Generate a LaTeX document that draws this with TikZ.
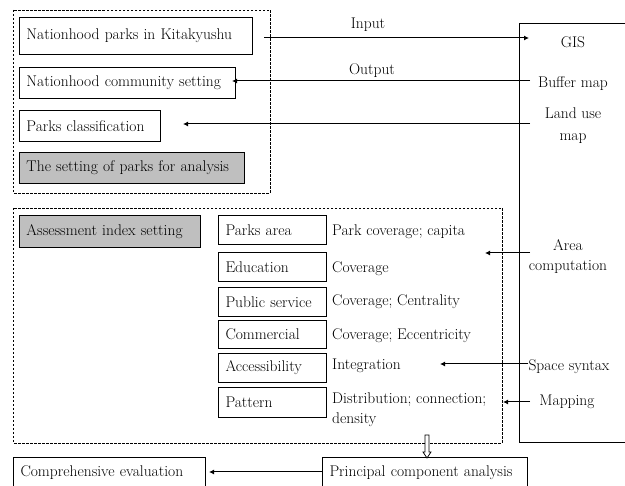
\documentclass[tikz,border=0pt]{standalone}
\usetikzlibrary{arrows.meta}
\tikzset{
  pbox/.style={draw, line width=1pt, inner xsep=7pt, inner ysep=0pt, align=left, anchor=north west},
  graybox/.style={pbox, fill=black!25},
  frame/.style={draw, line width=0.8pt, dash pattern=on 2.5pt off 1.5pt},
  lbl/.style={inner sep=0pt, align=center},
  desc/.style={inner sep=0pt, anchor=west, align=left},
  arr/.style={line width=1pt, -{Latex[length=5pt,width=5pt]}},
  hollow/.style={draw, line width=0.8pt, fill=white}
}
% name, x1, y1, x2, y2, style, text
\newcommand\mybox[7]{%
  \node[#6, minimum width={(#4-#2)*1pt}, minimum height={(#5-#3)*1pt}, text width={(#4-#2-14)*1pt}] (#1) at (#2,#3) {\mbox{#7}};}
\begin{document}
\begin{tikzpicture}[x=1pt,y=-1pt, font=\fontsize{15.5}{20}\selectfont]
\useasboundingbox (0,0) rectangle (625,486);
\clip (0,0) rectangle (625,486);
% frames
\draw[frame] (13,10) rectangle (270,193);
\draw[frame] (13,208) rectangle (502,443);
% GIS box (extends beyond the picture)
\draw[line width=1pt] (640,24) -- (519,24) -- (519,443) -- (640,443);
% top boxes
\mybox{n1}{19}{17}{252}{54}{pbox}{Nationhood parks in Kitakyushu}
\mybox{n2}{19}{67}{235}{98}{pbox}{Nationhood community setting}
\mybox{n3}{19}{110}{160}{141}{pbox}{Parks classification}
\mybox{n4}{19}{152}{244}{183}{graybox}{The setting of parks for analysis}
% bottom
\mybox{a0}{19}{215}{200}{247}{graybox}{Assessment index setting}
\mybox{i1}{218}{215}{326}{244}{pbox}{Parks area}
\mybox{i2}{218}{252}{326}{281}{pbox}{Education}
\mybox{i3}{218}{287}{326}{316}{pbox}{Public service}
\mybox{i4}{218}{320}{326}{348}{pbox}{Commercial}
\mybox{i5}{218}{353}{326}{382}{pbox}{Accessibility}
\mybox{i6}{218}{387}{326}{417}{pbox}{Pattern}
\node[desc] (d1) at (332,232) {Park coverage; capita};
\node[desc] (d2) at (332,269) {Coverage};
\node[desc] (d3) at (332,302) {Coverage; Centrality};
\node[desc] (d4) at (332,336) {Coverage; Eccentricity};
\node[desc] (d5) at (332,366) {Integration};
\node[desc, anchor=north west] (d6) at (332,393) {Distribution; connection;\\density};
\mybox{ce}{13}{457}{205}{488}{pbox}{Comprehensive evaluation}
\mybox{pca}{322}{457}{527}{488}{pbox}{Principal component analysis}
% right labels
\node[lbl] (gis) at (573,42) {GIS};
\node[lbl] (buf) at (573,84) {Buffer map};
\node[lbl, font=\fontsize{15.5}{22}\selectfont] (land) at (573,126) {Land use\\map};
\node[lbl] (area) at (568,257) {Area\\computation};
\node[lbl] (ss) at (569,367) {Space syntax};
\node[lbl] (map) at (567,402) {Mapping};
\node[lbl] (in) at (368,25) {Input};
\node[lbl] (out) at (372,71) {Output};
% coordinates for connector ends
\coordinate (gisIn) at (529,38);
\coordinate (bufOut) at (530,81);
\coordinate (landOut) at (530,124);
\coordinate (n3tip) at (183,124);
\coordinate (areaOut) at (530,253);
\coordinate (areaTip) at (485,253);
\coordinate (ssTip) at (440,364);
\coordinate (mapOut) at (530,402);
\coordinate (mapTip) at (503,402);
% connectors
\draw[arr] ([xshift=11pt]n1.east |- gisIn) -- (gisIn);
\draw[arr] (bufOut) -- ([xshift=-4pt]n2.east |- bufOut);
\draw[arr] (landOut) -- (n3tip);
\draw[arr] (areaOut) -- (areaTip);
\draw[arr] (ss.west |- ssTip) -- (ssTip);
\draw[arr] (mapOut) -- (mapTip);
\coordinate (pcay) at (0,472);
\draw[arr] (pca.west |- pcay) -- ([xshift=3pt]ce.east |- pcay);
% hollow down arrow
\draw[hollow] (425,435) -- (429,435) -- (429,452) -- (431,452) -- (427,458) -- (423,452) -- (425,452) -- cycle;
\end{tikzpicture}
\end{document}
